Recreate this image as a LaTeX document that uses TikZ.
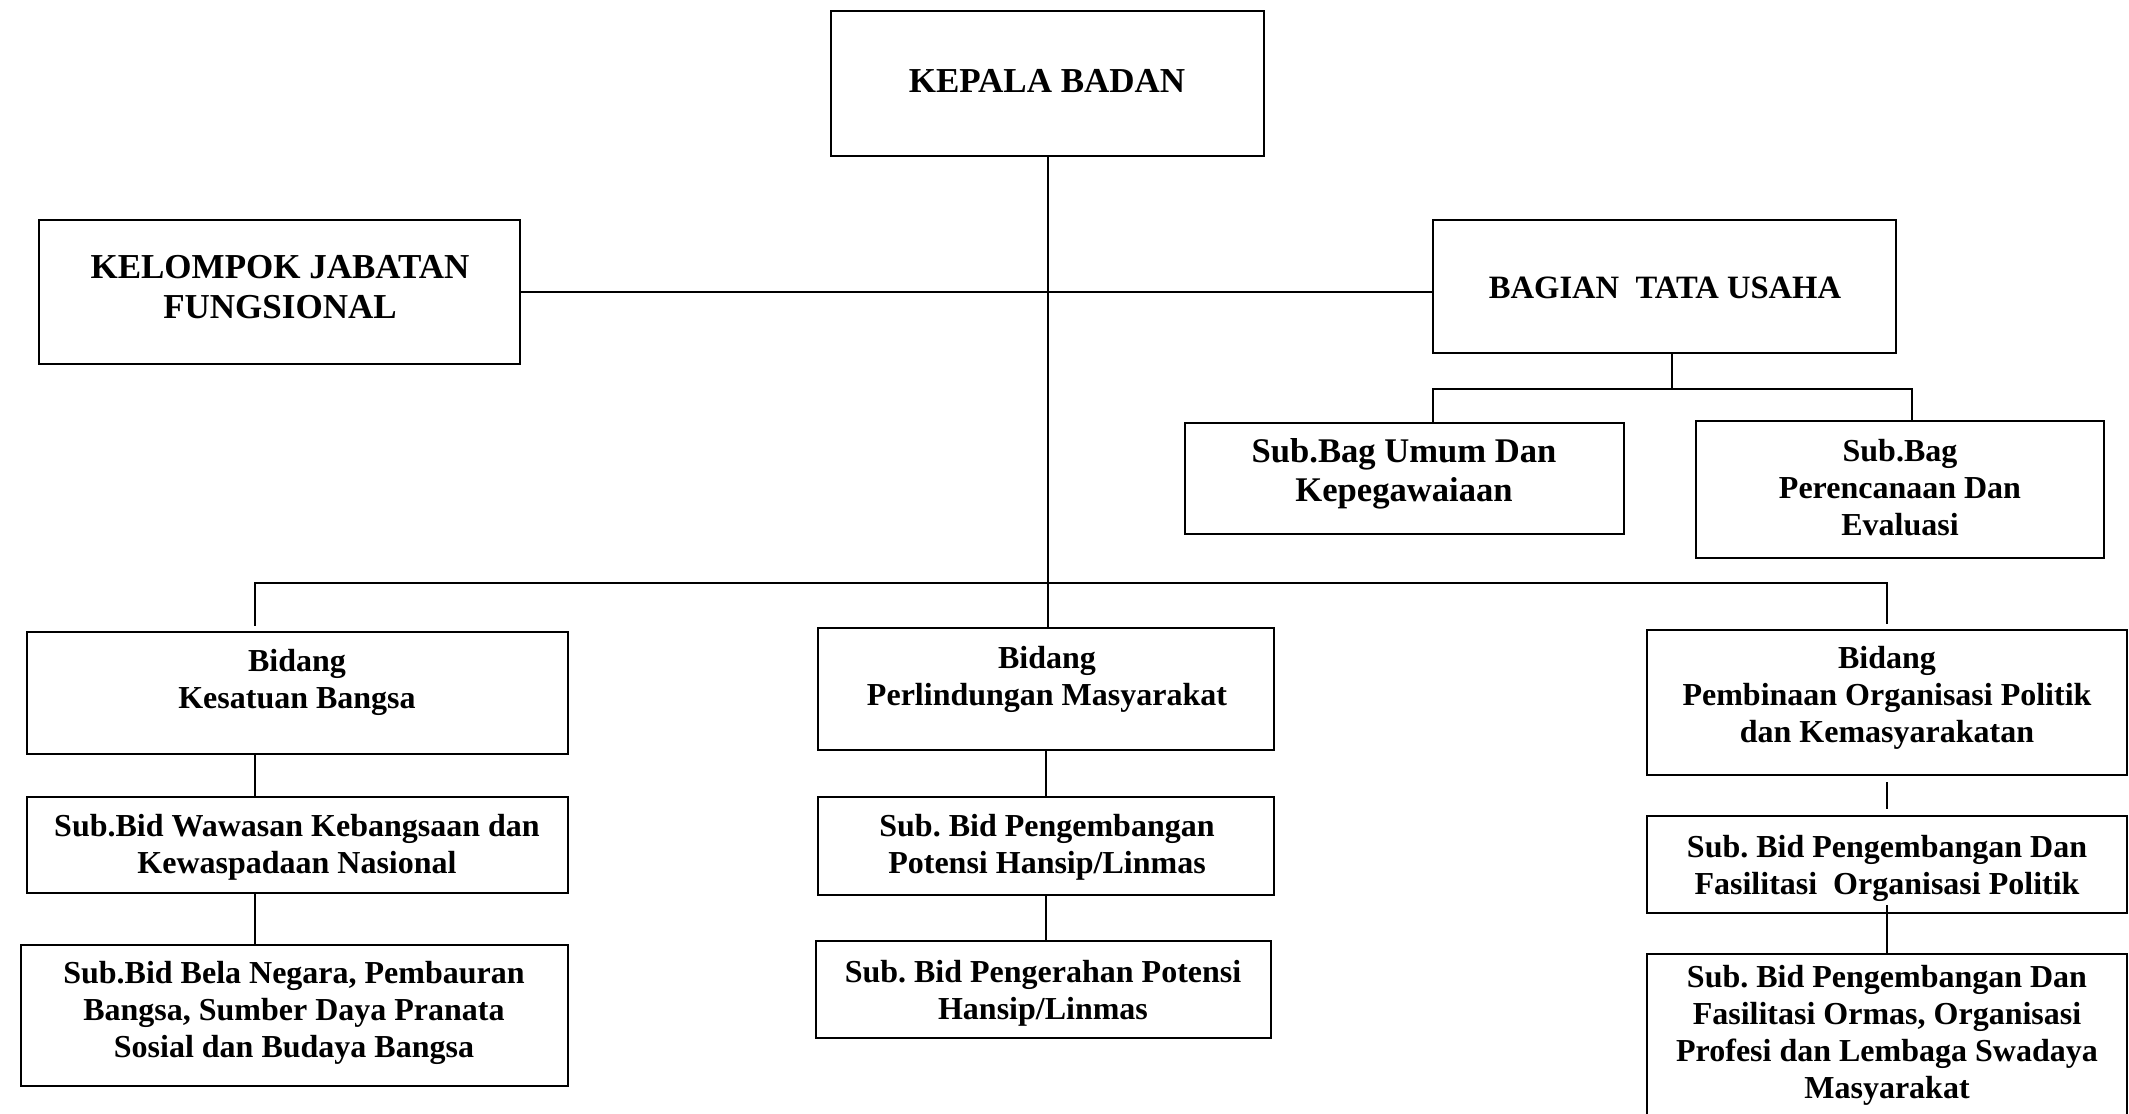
\documentclass[tikz,border=0pt]{standalone}
\usepackage{fontspec}
\setmainfont{Liberation Serif}
\frenchspacing
\begin{document}
\begin{tikzpicture}[x=0.5pt,y=-0.5pt,
  box/.style={draw,line width=1.1pt,inner sep=0pt},
  sz/.style 2 args={minimum width=#1*0.5pt,minimum height=#2*0.5pt},
  txt/.style={align=center,inner sep=0pt,font=\fontsize{16}{18.5}\selectfont\bfseries},
  bigtxt/.style={txt,font=\fontsize{17.5}{20.2}\selectfont\bfseries},
  conn/.style={line width=1pt}]
\useasboundingbox (0,0) rectangle (2129,1113);
% boxes
\node[box,sz={433}{145}] (kb) at (1047.5,83.5) {};
\node[box,sz={481}{144}] (kjf) at (279.5,292) {};
\node[box,sz={463}{133}] (tu) at (1664.5,286.5) {};
\node[box,sz={439}{111}] (umum) at (1404.5,478.5) {};
\node[box,sz={408}{137}] (ren) at (1900,489.5) {};
\node[box,sz={541}{122}] (kes) at (297.5,693) {};
\node[box,sz={456}{122}] (lin) at (1046,689) {};
\node[box,sz={480}{145}] (pem) at (1887,702.5) {};
\node[box,sz={541}{96}] (waw) at (297.5,845) {};
\node[box,sz={547}{141}] (bela) at (294.5,1015.5) {};
\node[box,sz={456}{98}] (pot) at (1046,846) {};
\node[box,sz={455}{97}] (ger) at (1043.5,989.5) {};
\node[box,sz={480}{97}] (orp) at (1887,864.5) {};
\node[box,sz={480}{181}] (orm) at (1887,1044.5) {};
% texts
\node[bigtxt] (kbt) at (1047,81) {KEPALA BADAN};
\node[bigtxt] (kjft) at (280,287) {KELOMPOK JABATAN\\FUNGSIONAL};
\node[txt,font=\fontsize{16.3}{18.5}\selectfont\bfseries] (tut) at (1665,288) {BAGIAN\ \ TATA USAHA};
\node[bigtxt,font=\fontsize{17.3}{19.8}\selectfont\bfseries] (umumt) at (1404,474) {Sub.Bag Umum Dan\\Kepegawaiaan};
\node[txt] (rent) at (1900,488) {Sub.Bag\\Perencanaan Dan\\Evaluasi};
\node[txt] (kest) at (297,682) {Bidang\\Kesatuan Bangsa};
\node[txt] (lint) at (1047,679) {Bidang\\Perlindungan Masyarakat};
\node[txt] (pemt) at (1887,698) {Bidang\\Pembinaan Organisasi Politik\\dan Kemasyarakatan};
\node[txt] (wawt) at (297,847) {Sub.Bid Wawasan Kebangsaan dan\\Kewaspadaan Nasional};
\node[txt] (pott) at (1047,847) {Sub. Bid Pengembangan\\Potensi Hansip/Linmas};
\node[txt] (belat) at (294,1013) {Sub.Bid Bela Negara, Pembauran\\Bangsa, Sumber Daya Pranata\\Sosial dan Budaya Bangsa};
\node[txt] (gert) at (1043,993) {Sub. Bid Pengerahan Potensi\\Hansip/Linmas};
\node[txt] (orpt) at (1887,868) {Sub. Bid Pengembangan Dan\\Fasilitasi\ \ Organisasi Politik};
\node[txt] (ormt) at (1887,1035) {Sub. Bid Pengembangan Dan\\Fasilitasi Ormas, Organisasi\\Profesi dan Lembaga Swadaya\\Masyarakat};
% junction points
\coordinate (tuj) at (1672,389);
\coordinate (tl) at (1433,389);
\coordinate (tr) at (1912,389);
\coordinate (bl) at (255,583);
\coordinate (br) at (1887,583);
% connectors
\draw[conn] (kb.south) -- (kb.south |- lin.north);
\draw[conn] (kjf.east) -- (kjf.east -| tu.west);
\draw[conn] (tu.south -| tuj) -- (tuj);
\draw[conn] (umum.north -| tl) -- (tl) -- (tr) -- (ren.north -| tr);
\draw[conn,shorten <=2.5pt,shorten >=2.5pt] (kes.north -| bl) -- (bl) -- (br) -- (pem.north);
\draw[conn] (kes.south -| bl) -- (waw.north -| bl);
\draw[conn] (waw.south -| bl) -- (bela.north -| bl);
\draw[conn] (lin.south) -- (pot.north);
\draw[conn] (pot.south) -- (pot.south |- ger.north);
\draw[conn,shorten <=3pt,shorten >=3pt] (pem.south) -- (orp.north);
\draw[conn,shorten <=-4.5pt] (orp.south) -- (orm.north);
\end{tikzpicture}
\end{document}
